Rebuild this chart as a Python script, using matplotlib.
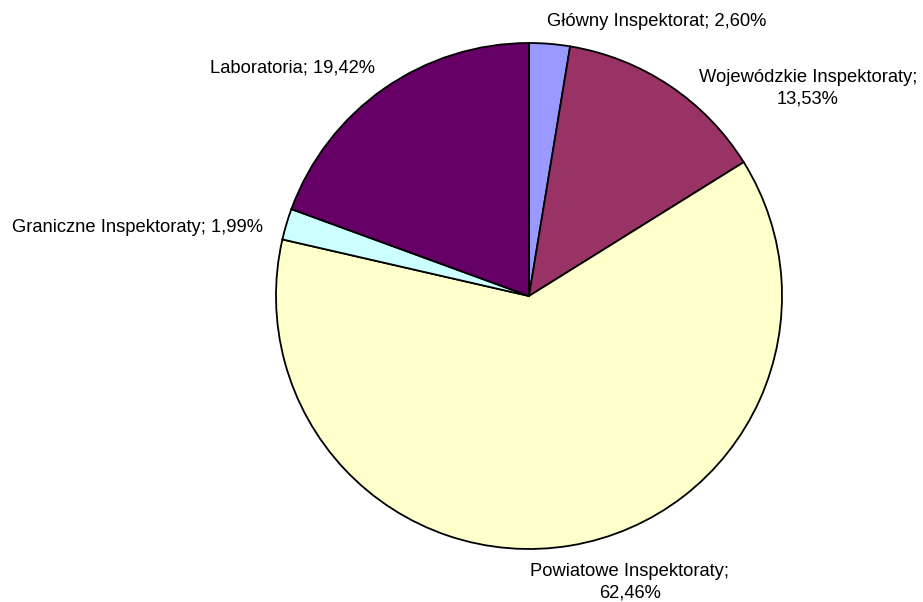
import matplotlib
matplotlib.use("Agg")
import matplotlib.pyplot as plt

plt.rcParams['font.family'] = ['Liberation Sans', 'DejaVu Sans']

labels = ['Główny Inspektorat; 2,60%', 'Wojewódzkie Inspektoraty;\n13,53%',
          'Powiatowe Inspektoraty;\n62,46%', 'Graniczne Inspektoraty; 1,99%',
          'Laboratoria; 19,42%']
shares = [2.60, 13.53, 62.46, 1.99, 19.42]
colors = ['#9999FF', '#993366', '#FFFFCC', '#CCFFFF', '#660066']

# label centres in pixels (x, y from top)
label_px = [(657, 22), (808, 88), (630, 582), (138, 227), (293, 68)]

W, H = 923, 602
cx, cy, r = 529, 296, 253

fig = plt.figure(figsize=(W / 100, H / 100), dpi=100)
ax = fig.add_axes([(cx - r) / W, (H - cy - r) / H, 2 * r / W, 2 * r / H])
ax.pie(shares, colors=colors, startangle=90, counterclock=False, radius=1,
       wedgeprops=dict(edgecolor='black', linewidth=1.3))
ax.set_xlim(-1, 1)
ax.set_ylim(-1, 1)
ax.set_aspect('equal')
ax.axis('off')

for lab, (px, py) in zip(labels, label_px):
    fig.text(px / W, 1 - py / H, lab, ha='center', va='center',
             fontsize=13.2, linespacing=1.35)

fig.savefig('out.png', dpi=100, facecolor='white')
